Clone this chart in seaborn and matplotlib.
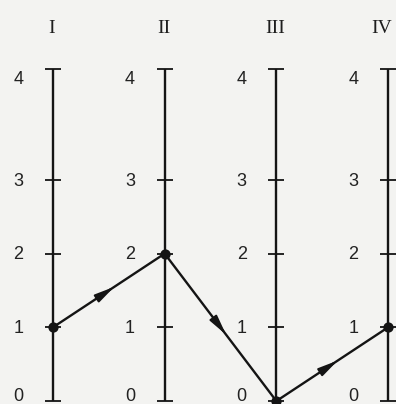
import numpy as np
import pandas as pd
import matplotlib
matplotlib.use("Agg")
import matplotlib.pyplot as plt
import seaborn as sns

# Parallel scales and the path that moves across them
axis_names = ["I", "II", "III", "IV"]
levels = [0, 1, 2, 3, 4]
path_values = [1, 2, 0, 1]

INK = "#141414"
PAPER = "#f3f3f1"

sns.set_theme(style="white")
plt.rcParams["font.family"] = ["Liberation Sans", "DejaVu Sans"]

# The scale drawn on each axis is stretched between 3 and 4
def forward(v):
    return np.interp(v, [-10, 0, 1, 2, 3, 4, 20], [-10, 0, 1, 2, 3, 4.5, 20.5])


def inverse(s):
    return np.interp(s, [-10, 0, 1, 2, 3, 4.5, 20.5], [-10, 0, 1, 2, 3, 4, 20])


fig = plt.figure(figsize=(3.96, 4.04), dpi=100)
fig.patch.set_facecolor(PAPER)
ax = fig.add_axes([0, 0, 1, 1])
ax.set_facecolor(PAPER)
ax.set_yscale("function", functions=(forward, inverse))
ax.set_xlim(-0.474, 3.071)
ax.set_ylim(-0.04, 4.94)
ax.axis("off")

xs = np.arange(len(axis_names))

# vertical scales
ax.vlines(xs, min(levels), max(levels), color=INK, lw=1.7, zorder=2)

# tick marks on every scale
ticks = pd.DataFrame([(i, lv) for i in xs for lv in levels], columns=["axis", "level"])
sns.scatterplot(data=ticks, x="axis", y="level", marker="_", s=130,
                linewidth=1.3, color=INK, ax=ax, zorder=3, legend=False)

# level labels
for i in xs:
    for lv in levels:
        if lv == max(levels):
            dy = -7
        elif lv == min(levels):
            dy = 3
        else:
            dy = -1
        ax.annotate(str(lv), xy=(i, lv), xytext=(-25, dy), textcoords="offset points",
                    ha="center", va="center", fontsize=13, color="#222222")

# axis headings
for i, name in zip(xs, axis_names):
    ax.text(i - (0.06 if i == 3 else 0.01), 0.93, name,
            transform=ax.get_xaxis_transform(), ha="center", va="center",
            fontsize=14, family="Liberation Serif", color="#1e1e1e")

# the path
path = pd.DataFrame({"axis": xs, "value": path_values})
sns.lineplot(data=path, x="axis", y="value", color=INK, lw=1.7, ax=ax, zorder=4)
sns.scatterplot(data=path, x="axis", y="value", color=INK, s=55, linewidth=0,
                ax=ax, zorder=5, legend=False)

# direction arrows along each segment
for i in range(len(path_values) - 1):
    v0, v1 = path_values[i], path_values[i + 1]
    tip = (xs[i] + 0.55, v0 + 0.55 * (v1 - v0))
    tail = (xs[i] + 0.45, v0 + 0.45 * (v1 - v0))
    ax.annotate("", xy=tip, xytext=tail,
                arrowprops=dict(arrowstyle="-|>,head_length=1.0,head_width=0.22",
                                color=INK, lw=1.4, shrinkA=0, shrinkB=0),
                zorder=6)

fig.savefig("out.png", dpi=100, facecolor=PAPER)
